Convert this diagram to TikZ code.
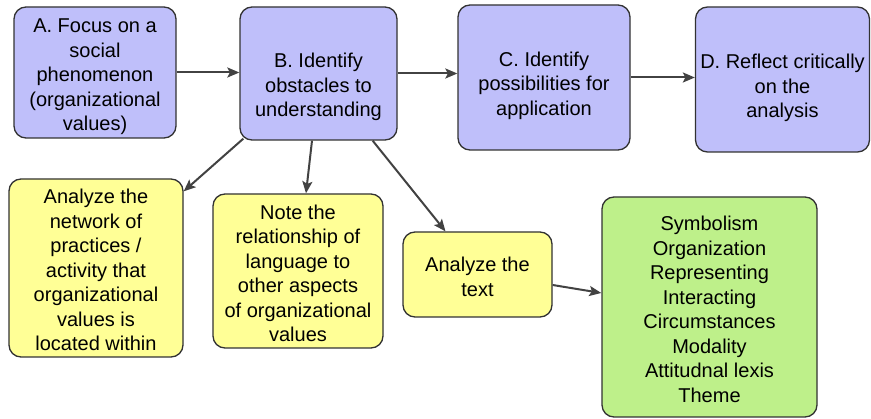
\documentclass[tikz,border=0pt]{standalone}
\usepackage{fontspec}
\setmainfont{Liberation Sans}
\usetikzlibrary{arrows.meta}

\definecolor{stepblue}{RGB}{191,191,250}
\definecolor{taskyellow}{RGB}{255,255,150}
\definecolor{listgreen}{RGB}{190,240,138}
\definecolor{edgegray}{RGB}{50,50,50}
\definecolor{arrowgray}{RGB}{66,66,66}

% centred lines of text, lowered a little inside the box
\newcommand{\boxlines}[2][-4.5pt]{%
  \raisebox{#1}[\height][\depth]{\begin{tabular}{@{}c@{}}#2\end{tabular}}}

\begin{document}
\begin{tikzpicture}[x=1pt,y=-1pt,
  card/.style={draw=edgegray, line width=1.3pt, rounded corners=12pt,
    inner sep=0pt, font=\fontsize{20}{24.5}\selectfont},
  stepcard/.style={card, fill=stepblue},
  taskcard/.style={card, fill=taskyellow},
  listcard/.style={card, fill=listgreen},
  flow/.style={draw=arrowgray, line width=2pt,
    -{Stealth[length=12pt,width=10pt,inset=2.5pt]}}
]
\useasboundingbox (0,0) rectangle (871,419);

% top row: the four steps
\node[stepcard, minimum width=162pt, minimum height=131pt] (A) at (95,72.5)
  {\boxlines{A. Focus on a\\social\\phenomenon\\(organizational\\values)}};
\node[stepcard, minimum width=157pt, minimum height=133pt] (B) at (318.5,73.5)
  {\boxlines[-14pt]{B. Identify\\obstacles to\\understanding}};
\node[stepcard, minimum width=172pt, minimum height=145pt] (C) at (544,77.5)
  {\boxlines[-8.5pt]{C. Identify\\possibilities for\\application}};
\node[stepcard, minimum width=174pt, minimum height=145pt] (D) at (782.5,79.5)
  {\boxlines[-9pt]{D. Reflect critically\\on the\\analysis}};

% second row: what step B involves
\node[taskcard, minimum width=174pt, minimum height=178pt] (Y1) at (96,268)
  {\boxlines{Analyze the\\network of\\practices /\\activity that\\organizational\\values is\\located within}};
\node[taskcard, minimum width=170pt, minimum height=154pt] (Y2) at (298,271)
  {\boxlines{Note the\\relationship of\\language to\\other aspects\\of organizational\\values}};
\node[taskcard, minimum width=149pt, minimum height=85pt] (Y3) at (477.5,274.5)
  {\boxlines{Analyze the\\text}};

% text-analysis categories
\node[listcard, minimum width=215pt, minimum height=220pt] (G) at (709.5,307)
  {\boxlines{Symbolism\\Organization\\Representing\\Interacting\\Circumstances\\Modality\\Attitudnal lexis\\Theme}};

% connectors
\draw[flow] (A.east) -- (A.east -| B.west);
\draw[flow] (B.east) -- (B.east -| C.west);
\draw[flow] (C.east) -- (C.east -| D.west);
\draw[flow] ([xshift=4pt,yshift=2pt]B.south west) -- ([yshift=-13pt]Y1.north east);
\draw[flow] ([xshift=-6.5pt]B.south) -- ([xshift=8pt]Y2.north);
\draw[flow] ([xshift=-25pt]B.south east) -- ([xshift=-32pt]Y3.north);
\draw[flow] ([yshift=-10.5pt]Y3.east) -- ([yshift=14pt]G.west);
\end{tikzpicture}
\end{document}
